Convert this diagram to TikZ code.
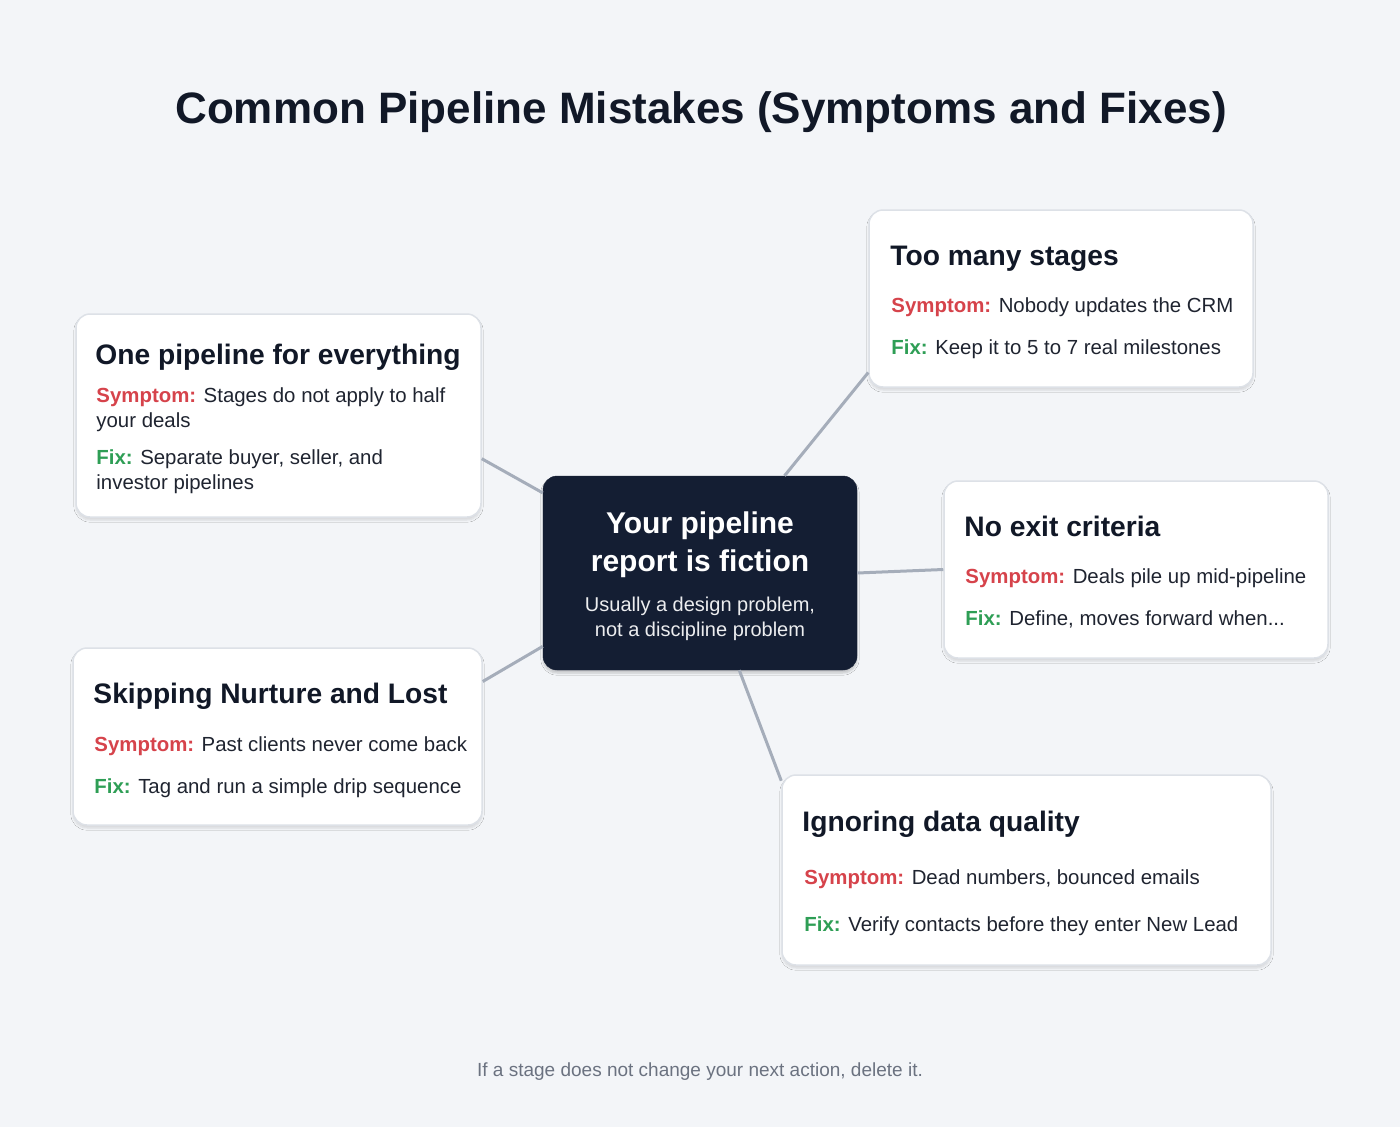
\documentclass[tikz,border=0pt]{standalone}
\usepackage{fontspec}
\setmainfont{Liberation Sans}
\usepackage{xcolor}
\usetikzlibrary{calc,positioning,shadows.blur}

\definecolor{bgpaper}{HTML}{F3F5F8}
\definecolor{inkdark}{HTML}{111827}
\definecolor{hubfill}{HTML}{141E33}
\definecolor{symred}{HTML}{D6434B}
\definecolor{fixgreen}{HTML}{2E9E55}
\definecolor{bodyink}{HTML}{1F2430}
\definecolor{cardedge}{HTML}{DDE1E7}
\definecolor{linkgray}{HTML}{A5ADBA}
\definecolor{footgray}{HTML}{6B7280}

\tikzset{
  card/.style={draw=cardedge,line width=1.5pt,fill=white,rounded corners=14pt,
    blur shadow={shadow blur steps=6,shadow xshift=0pt,shadow yshift=-3pt,shadow opacity=12}},
  hub/.style={draw=hubfill,fill=hubfill,rounded corners=14pt,
    blur shadow={shadow blur steps=6,shadow xshift=0pt,shadow yshift=-3pt,shadow opacity=20}},
  head/.style={anchor=base west,inner sep=0pt,text=inkdark,font=\fontsize{28.2}{32}\selectfont\bfseries},
  line/.style={anchor=base west,inner sep=0pt,text=bodyink,font=\fontsize{20.4}{24}\selectfont},
  link/.style={draw=linkgray,line width=3pt}
}
\newcommand{\symp}{\textcolor{symred}{\bfseries Symptom:}}
\newcommand{\fixit}{\textcolor{fixgreen}{\bfseries Fix:}}

\begin{document}
\begin{tikzpicture}[x=1pt,y=-1pt]
    \fill[bgpaper] (0,0) rectangle (1400,1127);
    \useasboundingbox (0,0) rectangle (1400,1127);
    % title
    \node (title) at (701,123) [anchor=base,inner sep=0pt,text=inkdark,font=\fontsize{44}{50}\selectfont\bfseries]{Common Pipeline Mistakes (Symptoms and Fixes)};
    % cards
    \node (c1) at (278.5,415.5) [card,minimum width=405pt,minimum height=203pt]{};
    \node (c2) at (1061,298.5) [card,minimum width=384pt,minimum height=177pt]{};
    \node (c3) at (1136,569.5) [card,minimum width=384pt,minimum height=177pt]{};
    \node (c4) at (277.5,736.5) [card,minimum width=409pt,minimum height=177pt]{};
    \node (c5) at (1026.5,870) [card,minimum width=489pt,minimum height=190pt]{};
    % centre
    \node (hub) at (700,573) [hub,minimum width=314pt,minimum height=194pt]{};
    % connectors
    \draw[link] (c1.-12.9) -- (hub.153.6);
    \draw[link] (hub.49.8) -- (c2.201.2);
    \draw[link] (hub.0) -- (c3.180);
    \draw[link] (c4.15.2) -- (hub.205.8);
    \draw[link] (hub.-68.6) -- (c5.160.8);
    % centre text
    \node (hubt1) at ($(hub.north)+(0,58)$) [anchor=base,inner sep=0pt,text=white,font=\fontsize{30}{34}\selectfont\bfseries]{Your pipeline};
    \node (hubt2) at ($(hub.north)+(0,96)$) [anchor=base,inner sep=0pt,text=white,font=\fontsize{30}{34}\selectfont\bfseries]{report is fiction};
    \node (hubs1) at ($(hub.north)+(0,136)$) [anchor=base,inner sep=0pt,text=white!92!hubfill,font=\fontsize{20}{24}\selectfont]{Usually a design problem,};
    \node (hubs2) at ($(hub.north)+(0,161)$) [anchor=base,inner sep=0pt,text=white!92!hubfill,font=\fontsize{20}{24}\selectfont]{not a discipline problem};
    % card 1
    \node (h1) at ($(c1.north west)+(20,51)$) [head]{One pipeline for everything};
    \node (s1) at ($(c1.north west)+(21,89)$) [line]{\symp{} Stages do not apply to half};
    \node (s1b) at ($(c1.north west)+(21,114)$) [line]{your deals};
    \node (f1) at ($(c1.north west)+(21,151)$) [line]{\fixit{} Separate buyer, seller, and};
    \node (f1b) at ($(c1.north west)+(21,176)$) [line]{investor pipelines};
    % card 2
    \node (h2) at ($(c2.north west)+(22,56)$) [head]{Too many stages};
    \node (s2) at ($(c2.north west)+(23,103)$) [line]{\symp{} Nobody updates the CRM};
    \node (f2) at ($(c2.north west)+(23,145)$) [line]{\fixit{} Keep it to 5 to 7 real milestones};
    % card 3
    \node (h3) at ($(c3.north west)+(21,56)$) [head]{No exit criteria};
    \node (s3) at ($(c3.north west)+(22,103)$) [line]{\symp{} Deals pile up mid-pipeline};
    \node (f3) at ($(c3.north west)+(22,145)$) [line]{\fixit{} Define, moves forward when...};
    % card 4
    \node (h4) at ($(c4.north west)+(21,56)$) [head]{Skipping Nurture and Lost};
    \node (s4) at ($(c4.north west)+(22,104)$) [line]{\symp{} Past clients never come back};
    \node (f4) at ($(c4.north west)+(22,146)$) [line]{\fixit{} Tag and run a simple drip sequence};
    % card 5
    \node (h5) at ($(c5.north west)+(21,57)$) [head]{Ignoring data quality};
    \node (s5) at ($(c5.north west)+(23,110)$) [line]{\symp{} Dead numbers, bounced emails};
    \node (f5) at ($(c5.north west)+(23,157)$) [line]{\fixit{} Verify contacts before they enter New Lead};
    % footer
    \node (foot) at (700,1076) [anchor=base,inner sep=0pt,text=footgray,font=\fontsize{19}{22}\selectfont]{If a stage does not change your next action, delete it.};
\end{tikzpicture}
\end{document}
